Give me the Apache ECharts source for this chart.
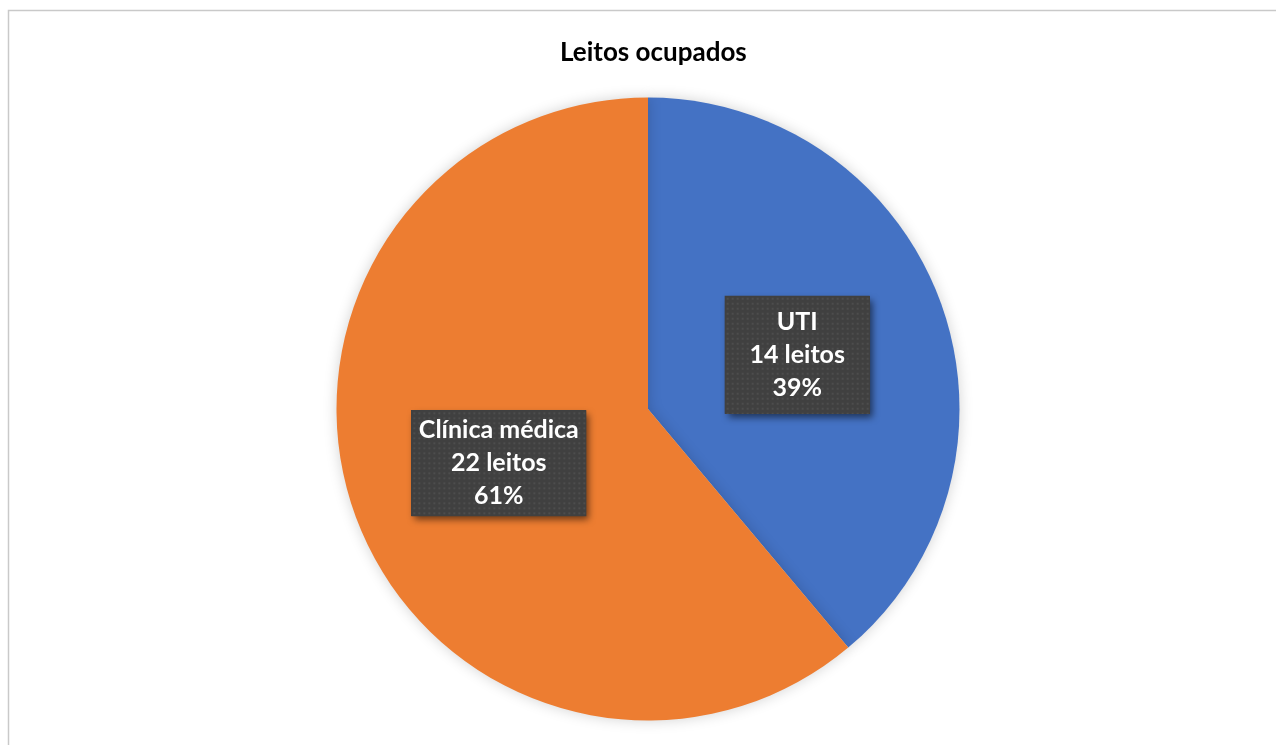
<!DOCTYPE html>
<html>
<head>
<meta charset="utf-8">
<script src="https://cdn.jsdelivr.net/npm/echarts@6/dist/echarts.min.js"></script>
<style>
html,body{margin:0;padding:0;background:#fff;}
#chart{width:1276px;height:745px;}
</style>
</head>
<body>
<div id="chart"></div>
<script>
const chartTitle = 'Leitos ocupados';
const categories = ['UTI', 'Clínica médica'];
const values = [14, 22];
const colors = ['#4472C4', '#ED7D31'];

// label box sizes (content width + padding)
const labelBoxes = [
  { width: 127, padding: [14, 9, 5, 9], w: 145, h: 118 },
  { width: 161, padding: [7, 7, 0, 7], w: 175, h: 106 }
];

// dotted texture, drawn at the box size (zrender stretches bg images)
function makeTexture(w, h) {
  const c = document.createElement('canvas');
  c.width = w; c.height = h;
  const ctx = c.getContext('2d');
  ctx.fillStyle = '#404040';
  ctx.fillRect(0, 0, w, h);
  ctx.fillStyle = '#4d4d4d';
  for (let y = 2; y < h; y += 5) {
    for (let x = 2; x < w; x += 5) {
      ctx.fillRect(x, y, 2, 2);
    }
  }
  return c;
}

const fmt = p => p.name + '\n' + p.value + ' leitos\n' + Math.round(p.percent) + '%';
const baseLabel = {
  show: true,
  position: 'inside',
  formatter: fmt,
  fontFamily: 'Lato',
  fontWeight: 'bold',
  fontSize: 25,
  lineHeight: 33,
  align: 'center'
};

const chart = echarts.init(document.getElementById('chart'), null, { renderer: 'canvas' });

chart.setOption({
  backgroundColor: '#ffffff',
  animation: false,
  title: {
    text: chartTitle,
    left: 555,
    top: 35,
    textStyle: { fontFamily: 'Lato', fontWeight: 'bold', fontSize: 26, color: '#000' }
  },
  graphic: [{
    type: 'rect',
    shape: { x: 8.5, y: 10.5, width: 1400, height: 900 },
    style: { fill: 'none', stroke: '#c9c9c9', lineWidth: 1.5 },
    silent: true
  }],
  series: [{
    // the pie, with the label boxes' shadows
    type: 'pie',
    z: 2,
    center: [648, 409],
    radius: [0, 311.5],
    startAngle: 90,
    clockwise: true,
    avoidLabelOverlap: false,
    labelLayout: { hideOverlap: false },
    itemStyle: {
      shadowBlur: 14,
      shadowColor: 'rgba(0,0,0,0.18)',
      borderWidth: 0
    },
    label: Object.assign({}, baseLabel, {
      color: 'rgba(0,0,0,0)',
      backgroundColor: '#404040',
      shadowColor: 'rgba(0,0,0,0.55)',
      shadowBlur: 7,
      shadowOffsetX: 3,
      shadowOffsetY: 4
    }),
    labelLine: { show: false },
    data: categories.map((c, i) => ({
      name: c,
      value: values[i],
      itemStyle: { color: colors[i] },
      label: { width: labelBoxes[i].width, padding: labelBoxes[i].padding }
    }))
  }, {
    // same slices, transparent, carrying the textured labels on top
    type: 'pie',
    z: 5,
    silent: true,
    center: [648, 409],
    radius: [0, 311.5],
    startAngle: 90,
    clockwise: true,
    avoidLabelOverlap: false,
    labelLayout: { hideOverlap: false },
    itemStyle: { color: 'rgba(0,0,0,0)', borderWidth: 0 },
    label: Object.assign({}, baseLabel, { color: '#ffffff' }),
    labelLine: { show: false },
    data: categories.map((c, i) => ({
      name: c,
      value: values[i],
      label: {
        width: labelBoxes[i].width,
        padding: labelBoxes[i].padding,
        backgroundColor: { image: makeTexture(labelBoxes[i].w, labelBoxes[i].h) }
      }
    }))
  }]
});
</script>
</body>
</html>
